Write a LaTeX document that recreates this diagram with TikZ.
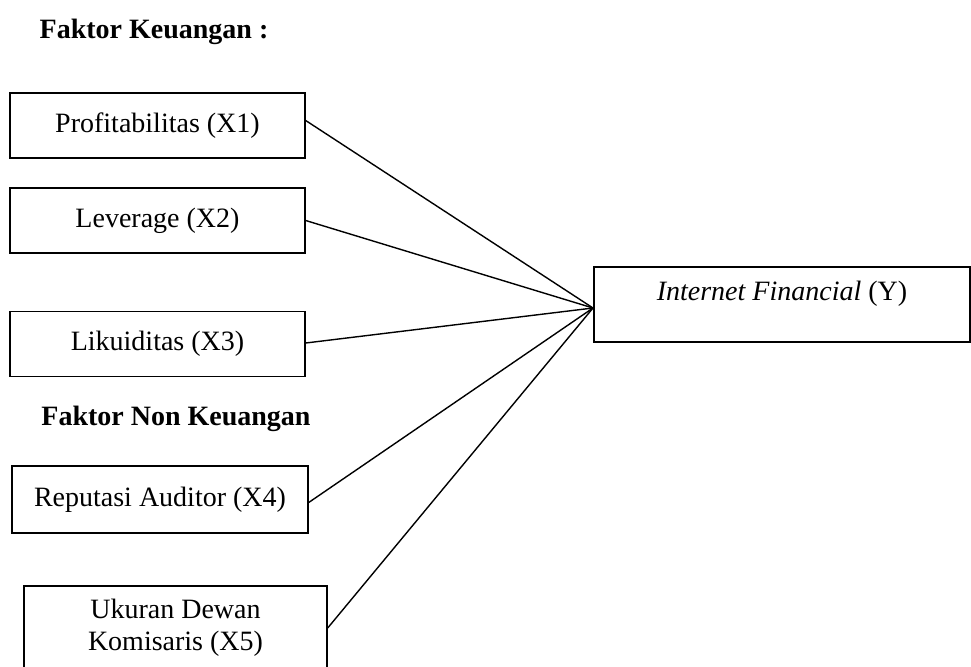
\documentclass[tikz,border=0pt]{standalone}
\usepackage{fontspec}
\setmainfont{Liberation Serif}
\begin{document}
\begin{tikzpicture}[x=0.5pt, y=-0.5pt, every node/.style={font=\fontsize{14}{16}\selectfont}]
\tikzset{var/.style={draw,line width=0.7pt,minimum width=147.5pt,minimum height=32.5pt,align=center,inner sep=2pt}}
\useasboundingbox (0,0) rectangle (971,666);
\node[font=\fontsize{14}{16}\selectfont\bfseries] (fin) at (154,32) {Faktor Keuangan :};
\node[var] (x1) at (157.5,125.5) {Profitabilitas (X1)};
\node[var] (x2) at (157.5,220.5) {Leverage (X2)};
\node[var] (x3) at (157.5,344) {Likuiditas (X3)};
\node[font=\fontsize{14}{16}\selectfont\bfseries] (nonfin) at (176,419) {Faktor Non Keuangan};
\node[var,minimum width=148pt,minimum height=33.5pt] (x4) at (160,499.5) {Reputasi Auditor (X4)};
\node[var,minimum width=151.5pt,minimum height=42pt] (x5) at (175.5,628) {Ukuran Dewan\\Komisaris (X5)};
\node[var,minimum width=188pt,minimum height=37.5pt,text depth=14pt] (y) at (782,304.5) {\textit{Internet Financial} (Y)};
\coordinate (hub) at (593,308);
\draw[line width=0.7pt] ([yshift=2.5pt]x1.east) -- (hub);
\draw[line width=0.7pt] (x2.east) -- (hub);
\draw[line width=0.7pt] ([yshift=0.5pt]x3.east) -- (hub);
\draw[line width=0.7pt] ([yshift=-1.5pt]x4.east) -- (hub);
\draw[line width=0.7pt] (x5.east) -- (hub);
\end{tikzpicture}
\end{document}
